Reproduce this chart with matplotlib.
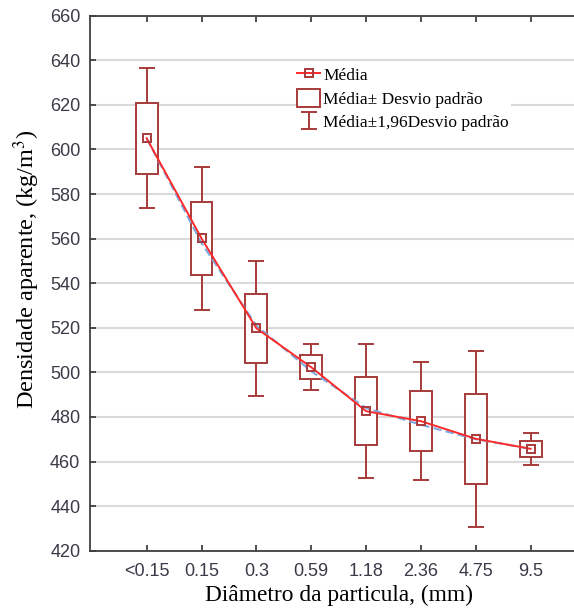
import matplotlib.pyplot as plt
from matplotlib.patches import Rectangle
import numpy as np

plt.rcParams['mathtext.fontset'] = 'stix'

# diameter classes and measured apparent density
classes = ['<0.15', '0.15', '0.3', '0.59', '1.18', '2.36', '4.75', '9.5']
media = [605.0, 560.1, 519.8, 502.3, 482.6, 478.1, 470.2, 465.7]
desvio = [16.0, 16.4, 15.5, 5.3, 15.4, 13.5, 20.1, 3.6]
ajuste = [605.0, 558.0, 521.0, 500.5, 484.0, 476.5, 470.0, 465.7]

box_c = '#a83a3a'
x = np.arange(len(classes))
m = np.array(media)
sd = np.array(desvio)

fig = plt.figure(figsize=(5.74, 6.09), dpi=100)
ax = fig.add_axes([90/574, 1-550.7/609, 1-90/574, (550.7-15.7)/609])

# whiskers (mean +- 1.96 sd)
eb = ax.errorbar(x, m, yerr=1.96*sd, fmt='none', ecolor=box_c, elinewidth=1.4,
                 capsize=5.5, capthick=1.4, zorder=2)

# boxes (mean +- sd)
for xi, mi, si in zip(x, m, sd):
    ax.add_patch(Rectangle((xi-0.2, mi-si), 0.4, 2*si, facecolor='white',
                           edgecolor=box_c, linewidth=1.4, zorder=3))

ax.plot(x, ajuste, color='#7aaae0', linestyle=(0, (4, 2)), linewidth=1.5, zorder=4)
ln, = ax.plot(x, m, color='#ff2a2a', linewidth=1.4, marker='s', markersize=6,
              markerfacecolor='none', markeredgecolor=box_c, markeredgewidth=1.4,
              zorder=5)

ax.set_xlim(-1.033, 7.79)
ax.set_ylim(420, 660)
ax.set_yticks(np.arange(420, 661, 20))
ax.set_xticks(x)
ax.set_xticklabels(classes)
ax.yaxis.grid(True, color='#dadada', linewidth=1.5)
ax.set_axisbelow(True)

ax.spines['right'].set_visible(False)
for s in ['left', 'bottom', 'top']:
    ax.spines[s].set_color('#404040')
    ax.spines[s].set_linewidth(1.3)
ax.tick_params(direction='in', length=4, width=1.3, color='#404040',
               labelsize=13, labelcolor='#3a3a48', top=True)
ax.tick_params(axis='x', pad=9)
ax.tick_params(axis='y', pad=7)
for lab in ax.get_xticklabels() + ax.get_yticklabels():
    lab.set_family('Liberation Sans')

ax.set_xlabel('Diâmetro da particula, (mm)', family='Liberation Serif', size=16.8,
              labelpad=3)
ax.set_ylabel('Densidade aparente, (kg/m$^3$)', family='Liberation Serif', size=17.5,
              labelpad=6)
ax.xaxis.label.set_x(0.514)
ax.yaxis.label.set_y(0.527)

box_h = Rectangle((0, 0), 1, 1, facecolor='white', edgecolor=box_c, linewidth=1.4)
leg = ax.legend([ln, box_h, eb],
                ['Média', 'Média± Desvio padrão', 'Média±1,96Desvio padrão'],
                loc='upper left', bbox_to_anchor=(0.425, 0.91),
                prop={'family': 'Liberation Serif', 'size': 12.5},
                frameon=True, facecolor='white', edgecolor='none', framealpha=1,
                borderpad=0.1, handlelength=1.3, handleheight=1.15,
                handletextpad=0.2, labelspacing=0.3, borderaxespad=0)

fig.savefig('out.png', dpi=100)
